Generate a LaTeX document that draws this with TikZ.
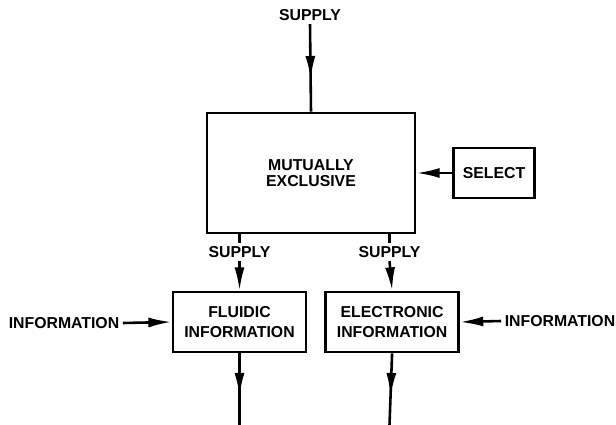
\documentclass[tikz,border=0pt]{standalone}
\usepackage{fontspec}
\setmainfont{Liberation Sans}
\usetikzlibrary{positioning,arrows.meta,decorations.markings}

\tikzset{
	blk/.style={draw, line width=2.2pt, align=center, inner sep=0pt},
	lbl/.style={inner sep=0.1cm},
	flow/.style={line width=2.2pt, -{Latex[length=7mm,width=3mm]}},
	midflow/.style={line width=2.2pt, postaction={decorate},
		decoration={markings, mark=at position #1 with {\arrow{Latex[length=7mm,width=3mm]}}}},
}

\begin{document}
\begin{tikzpicture}[x=0.03cm, y=-0.03cm, font=\bfseries\fontsize{13.5}{13.5}\selectfont]
	\useasboundingbox (0,0) rectangle (616,425);
	%% boxes
	\node[blk, minimum width=6.24cm, minimum height=3.6cm] (box) at (311,173) {MUTUALLY\\EXCLUSIVE};
	\node[blk, minimum width=2.43cm, minimum height=1.5cm, right =1.08cm of box] (sel) {SELECT};
	\node[blk, minimum width=3.99cm, minimum height=1.8cm, font=\bfseries\fontsize{13.5}{16.5}\selectfont] (fl) at (239.5,322) {FLUIDIC\\INFORMATION};
	\node[blk, minimum width=3.99cm, minimum height=1.8cm, font=\bfseries\fontsize{13.5}{16.5}\selectfont, right =0.51cm of fl] (el) {ELECTRONIC\\INFORMATION};
	%% labels
	\node[lbl] (s0) at (310,15) {SUPPLY};
	\node[lbl] (s1) at (239.5,252) {SUPPLY};
	\node[lbl] (s2) at (389.5,252) {SUPPLY};
	\node[lbl] (i1) at (64,323) {INFORMATION};
	\node[lbl] (i2) at (560,321) {INFORMATION};
	\coordinate (o1) at (239.5,425);
	\coordinate (o2) at (389.5,425);
	% connectors
	\draw[midflow=0.63] (s0.south) -- (box.north);
	\draw[flow] (sel.west) -- (box.east);
	\draw[line width=2.2pt] (box.south -| s1) -- (s1.north);
	\draw[line width=2.2pt] (box.south -| s2) -- (s2.north);
	\draw[flow] (s1.south) -- (fl.north);
	\draw[flow] (s2.south) -- (el.north);
	\draw[flow] (i1.east) -- (fl.west);
	\draw[flow] (i2.west) -- (el.east);
	\draw[midflow=0.6] (fl.south) -- (o1);
	\draw[midflow=0.6] (el.south) -- (o2);
\end{tikzpicture}
\end{document}
